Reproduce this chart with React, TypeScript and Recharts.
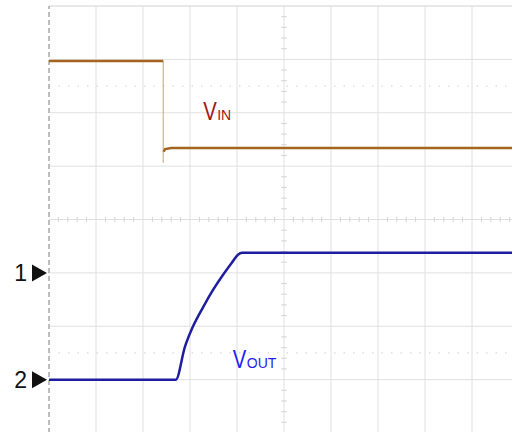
import { LineChart, Line, XAxis, YAxis, ReferenceLine, ReferenceDot } from 'recharts';

// scope screen in divisions: 10 horizontal, 8 vertical (centre = 0)
const gridX = [1, 2, 3, 4, 5, 6, 7, 8, 9];
const gridY = [3, 2, 1, 0, -1, -2, -3];
const dottedY = [2.5, -2.5];

// channel ground markers on the left edge
const markerLevels = [-1, -3];
const markerNames = ['1', '2'];

// V_IN trace (time div, level div)
const vinHighT = [0, 2.43];
const vinHighV = [2.97, 2.97];
const vinEdgeT = [2.43, 2.43];
const vinEdgeV = [2.97, 1.06];
const vinLowT = [2.44, 2.47, 2.6, 10];
const vinLowV = [1.27, 1.32, 1.34, 1.34];

// V_OUT trace
const voutT = [0, 2.7, 2.89, 3.06, 3.28, 3.49, 3.7, 3.89, 4.02, 4.11, 10];
const voutV = [-3.0, -3.0, -2.39, -2.01, -1.64, -1.32, -1.04, -0.81, -0.66, -0.625, -0.625];

const zip = (t: number[], v: number[]) => t.map((x, i) => ({ t: x, v: v[i] }));

const vinHigh = zip(vinHighT, vinHighV);
const vinEdge = zip(vinEdgeT, vinEdgeV);
const vinLow = zip(vinLowT, vinLowV);
const vout = zip(voutT, voutV);

// minor ticks along the centre cross, 5 per division
const minorX = Array.from({ length: 50 }, (_, i) => i * 0.2).filter((x) => x % 1 !== 0);
const minorY = Array.from({ length: 40 }, (_, i) => -4 + i * 0.2).filter((y) => Math.abs(y % 1) > 0.01 && Math.abs(y % 1) < 0.99);

const FONT = '"Liberation Sans", Arial, sans-serif';
const GRID = '#e0e0e0';

const ChannelTick = ({ x, y, payload }: any) => {
    const name = markerNames[markerLevels.indexOf(payload.value)];
    return (
        <g>
            <text x={x - 22} y={y + 8.5} textAnchor="end" fontSize={23} fontFamily={FONT} fill="#111">
                {name}
            </text>
            <polygon points={`${x - 17},${y - 8.5} ${x - 17},${y + 8.5} ${x - 2},${y}`} fill="#111" />
        </g>
    );
};

const SignalLabel = ({ cx, cy, sub, color }: any) => (
    <g transform={`translate(${cx},${cy})`} fontFamily={FONT} fill={color}>
        <text transform="scale(0.78,1)" fontSize={26}>V</text>
        <text x={14} fontSize={14}>{sub}</text>
    </g>
);

export default function App() {
    return (
        <div style={{ position: 'fixed', left: 0, top: 0, width: 512, height: 432, overflow: 'hidden', background: '#fff' }}>
            <LineChart width={530} height={440} margin={{ top: 6, right: 11, bottom: 7, left: 0 }}>
                <XAxis dataKey="t" type="number" domain={[0, 10]} hide />
                <YAxis
                    type="number"
                    domain={[-4, 4]}
                    ticks={markerLevels}
                    width={49}
                    axisLine={false}
                    tickLine={false}
                    tickSize={0}
                    tickMargin={0}
                    tick={<ChannelTick />}
                />

                {gridX.map((x) => (
                    <ReferenceLine key={`gx-${x}`} x={x} stroke={GRID} strokeWidth={1} />
                ))}
                {gridY.map((y) => (
                    <ReferenceLine key={`gy-${y}`} y={y} stroke={GRID} strokeWidth={1} />
                ))}
                <ReferenceLine y={4} stroke={GRID} strokeWidth={1.5} />
                {dottedY.map((y) => (
                    <ReferenceLine key={`dy-${y}`} y={y} stroke="#cfcfcf" strokeDasharray="1.5 8" />
                ))}
                {minorX.map((x) => (
                    <ReferenceLine key={`mx-${x}`} segment={[{ x, y: -0.05 }, { x, y: 0.05 }]} stroke="#d4d4d4" />
                ))}
                {minorY.map((y) => (
                    <ReferenceLine key={`my-${y}`} segment={[{ x: 4.94, y }, { x: 5.06, y }]} stroke="#d4d4d4" />
                ))}
                <ReferenceLine x={0} stroke="#a8a8a8" strokeWidth={1.5} strokeDasharray="5 3" />

                <Line data={vinEdge} dataKey="v" type="linear" stroke="#c9a27a" strokeWidth={1} dot={false} activeDot={false} isAnimationActive={false} />
                <Line data={vinHigh} dataKey="v" type="linear" stroke="#a5631f" strokeWidth={2.5} dot={false} activeDot={false} isAnimationActive={false} />
                <Line data={vinLow} dataKey="v" type="linear" stroke="#a5631f" strokeWidth={2.5} dot={false} activeDot={false} isAnimationActive={false} />
                <Line data={vout} dataKey="v" type="monotone" stroke="#1e1e9e" strokeWidth={2.5} dot={false} activeDot={false} isAnimationActive={false} />

                <ReferenceDot x={3.28} y={1.865} r={0} shape={(p: any) => <SignalLabel {...p} sub="IN" color="#a01818" />} />
                <ReferenceDot x={3.91} y={-2.78} r={0} shape={(p: any) => <SignalLabel {...p} sub="OUT" color="#1f1ff0" />} />
            </LineChart>
        </div>
    );
}
